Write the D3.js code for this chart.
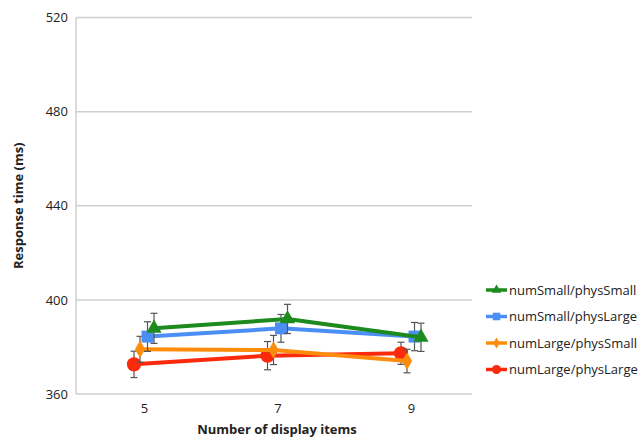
<!DOCTYPE html>
<html>
<head>
<meta charset="utf-8">
<script src="https://cdn.jsdelivr.net/npm/d3@7"></script>
<style>
  html, body { margin: 0; padding: 0; background: #fff; }
  svg text { font-family: "Open Sans", "Noto Sans", sans-serif; fill: #222; }
</style>
</head>
<body>
<svg id="chart" width="644" height="440"></svg>
<script>
// Display-set sizes on the x axis
const displayItems = [5, 7, 9];
const yTicks = [360, 400, 440, 480, 520];

// Condition names (legend order)
const conditions = ["numSmall/physSmall", "numSmall/physLarge", "numLarge/physSmall", "numLarge/physLarge"];

// Mean response times (ms) per condition, one value per display size
const numSmallPhysSmall = [387.9, 391.9, 384.1];
const numSmallPhysLarge = [384.4, 387.9, 384.4];
const numLargePhysSmall = [379.0, 378.7, 374.0];
const numLargePhysLarge = [372.6, 376.3, 377.3];

// Error bar half-widths (ms)
const errNumSmallPhysSmall = [6.4, 6.2, 6.0];
const errNumSmallPhysLarge = [6.3, 5.9, 6.0];
const errNumLargePhysSmall = [5.5, 6.2, 5.0];
const errNumLargePhysLarge = [5.6, 6.0, 4.7];

const colors = ["#1d8a1d", "#4b8ef6", "#fd8c0c", "#fb2a0c"];
const shapes = [d3.symbolTriangle, d3.symbolSquare, d3.symbolDiamond, d3.symbolCircle];
const symbolSizes = [100, 144, 90, 160];
const dodge = [10, 3.5, -4, -10];

const series = [
  { name: conditions[0], values: numSmallPhysSmall, errs: errNumSmallPhysSmall },
  { name: conditions[1], values: numSmallPhysLarge, errs: errNumSmallPhysLarge },
  { name: conditions[2], values: numLargePhysSmall, errs: errNumLargePhysSmall },
  { name: conditions[3], values: numLargePhysLarge, errs: errNumLargePhysLarge }
];

const svg = d3.select("#chart");
const plot = { left: 76, right: 472, top: 17.5, bottom: 394 };

const x = d3.scalePoint().domain(displayItems).range([144, 411]);
const y = d3.scaleLinear().domain([360, 520]).range([plot.bottom, plot.top]);

// Horizontal grid lines
svg.append("g")
  .selectAll("line")
  .data(yTicks)
  .join("line")
  .attr("x1", plot.left).attr("x2", plot.right)
  .attr("y1", d => y(d)).attr("y2", d => y(d))
  .attr("stroke", "#cfcfcf").attr("stroke-width", 1.5);

// Left axis line
svg.append("line")
  .attr("x1", plot.left).attr("x2", plot.left)
  .attr("y1", plot.top).attr("y2", plot.bottom)
  .attr("stroke", "#cfcfcf").attr("stroke-width", 1.5);

// Y axis
const yAxis = svg.append("g")
  .attr("transform", `translate(${plot.left},0)`)
  .call(d3.axisLeft(y).tickValues(yTicks).tickSize(0).tickPadding(8));
yAxis.select(".domain").remove();
yAxis.selectAll("text").style("font-size", "13px").attr("fill", "#222");

// X axis
const xAxis = svg.append("g")
  .attr("transform", `translate(0,${plot.bottom})`)
  .call(d3.axisBottom(x).tickSize(0).tickPadding(10));
xAxis.select(".domain").remove();
xAxis.selectAll("text").style("font-size", "13px").attr("fill", "#222");

// Axis titles
svg.append("text")
  .attr("transform", `translate(23,${(plot.top + plot.bottom) / 2}) rotate(-90)`)
  .attr("text-anchor", "middle")
  .style("font-size", "13px").style("font-weight", "bold")
  .text("Response time (ms)");

svg.append("text")
  .attr("x", 277).attr("y", 434)
  .attr("text-anchor", "middle")
  .style("font-size", "13px").style("font-weight", "bold")
  .text("Number of display items");

// Draw series back to front so the first condition sits on top
const order = [3, 2, 1, 0];
const line = d3.line();

order.forEach(i => {
  const s = series[i];
  const pts = displayItems.map((d, j) => [x(d) + dodge[i], y(s.values[j]), s.errs[j], s.values[j]]);
  const g = svg.append("g");

  // error bars
  pts.forEach(p => {
    const top = y(p[3] + p[2]), bot = y(p[3] - p[2]);
    g.append("line").attr("x1", p[0]).attr("x2", p[0]).attr("y1", top).attr("y2", bot)
      .attr("stroke", "#555").attr("stroke-width", 1.2);
    [top, bot].forEach(yy => g.append("line")
      .attr("x1", p[0] - 3.5).attr("x2", p[0] + 3.5).attr("y1", yy).attr("y2", yy)
      .attr("stroke", "#555").attr("stroke-width", 1.2));
  });

  g.append("path")
    .attr("d", line(pts.map(p => [p[0], p[1]])))
    .attr("fill", "none").attr("stroke", colors[i]).attr("stroke-width", 4)
    .attr("stroke-linejoin", "round");

  g.selectAll("path.mark")
    .data(pts)
    .join("path")
    .attr("class", "mark")
    .attr("transform", p => `translate(${p[0]},${p[1]})`)
    .attr("d", d3.symbol().type(shapes[i]).size(symbolSizes[i]))
    .attr("fill", colors[i]);
});

// Legend
const legend = svg.append("g");
series.forEach((s, i) => {
  const ly = 290 + i * 26.5;
  legend.append("line")
    .attr("x1", 486).attr("x2", 507).attr("y1", ly).attr("y2", ly)
    .attr("stroke", colors[i]).attr("stroke-width", 3.5);
  legend.append("path")
    .attr("transform", `translate(496.5,${ly})`)
    .attr("d", d3.symbol().type(shapes[i]).size(symbolSizes[i] * 0.4))
    .attr("fill", colors[i]);
  legend.append("text")
    .attr("x", 509).attr("y", ly).attr("dy", "0.35em")
    .style("font-size", "13px")
    .text(s.name);
});
</script>
</body>
</html>
